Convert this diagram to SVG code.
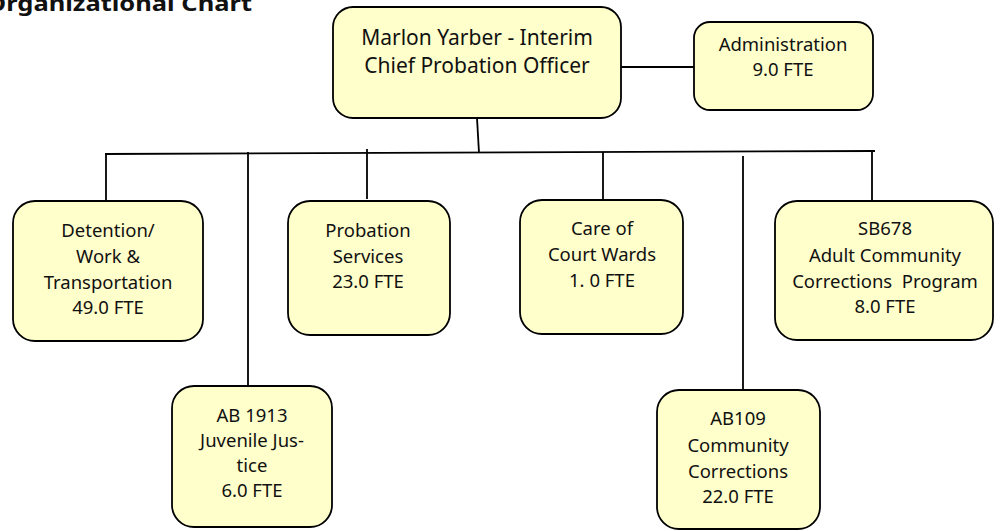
<svg xmlns="http://www.w3.org/2000/svg" width="1001" height="531" viewBox="0 0 1001 531">
<style>
.box{fill:#FFFFCC;stroke:#000;stroke-width:1.8}
.t{font-family:"Noto Sans","Open Sans","Liberation Sans",sans-serif;font-size:18.5px;fill:#111;text-anchor:middle}
.big{font-size:21px}
.ln{stroke:#000;stroke-width:1.8;fill:none}
.title{font-family:"Noto Sans","Open Sans","Liberation Sans",sans-serif;font-size:21px;font-weight:bold;fill:#111}
</style>
<rect width="1001" height="531" fill="#fff"/>
<text class="title" x="-14" y="11" textLength="266" lengthAdjust="spacingAndGlyphs">Organizational Chart</text>
<g id="connectors">
<line class="ln" x1="621" y1="67" x2="694" y2="67"/>
<line class="ln" x1="477" y1="118" x2="479" y2="153"/>
<line class="ln" x1="105" y1="154" x2="875" y2="151"/>
<line class="ln" x1="106" y1="153" x2="106" y2="201"/>
<line class="ln" x1="248" y1="152" x2="248" y2="387"/>
<line class="ln" x1="367" y1="149" x2="367" y2="199"/>
<line class="ln" x1="603" y1="152" x2="603" y2="201"/>
<line class="ln" x1="743" y1="156" x2="743" y2="390"/>
<line class="ln" x1="872" y1="151" x2="872" y2="201"/>
</g>
<g id="chief">
<rect class="box" x="333" y="7" width="288" height="111" rx="20"/>
<text class="t big" x="477" y="45">Marlon Yarber - Interim</text>
<text class="t big" x="477" y="73">Chief Probation Officer</text>
</g>
<g id="administration">
<rect class="box" x="694" y="22" width="179" height="88" rx="16"/>
<text class="t" x="783" y="51">Administration</text>
<text class="t" x="783" y="76">9.0 FTE</text>
</g>
<g id="detention">
<rect class="box" x="13" y="201" width="190" height="140" rx="22"/>
<text class="t" x="108" y="237">Detention/</text>
<text class="t" x="108" y="263">Work &amp;</text>
<text class="t" x="108" y="289">Transportation</text>
<text class="t" x="108" y="314">49.0 FTE</text>
</g>
<g id="probation">
<rect class="box" x="288" y="201" width="162" height="134" rx="22"/>
<text class="t" x="368" y="237">Probation</text>
<text class="t" x="368" y="263">Services</text>
<text class="t" x="368" y="288">23.0 FTE</text>
</g>
<g id="care">
<rect class="box" x="520" y="200" width="163" height="134" rx="22"/>
<text class="t" x="602" y="235">Care of</text>
<text class="t" x="602" y="261">Court Wards</text>
<text class="t" x="602" y="287">1. 0 FTE</text>
</g>
<g id="sb678">
<rect class="box" x="775" y="201" width="218" height="139" rx="22"/>
<text class="t" x="885" y="235">SB678</text>
<text class="t" x="885" y="262">Adult Community</text>
<text class="t" x="885" y="288" xml:space="preserve">Corrections  Program</text>
<text class="t" x="885" y="313">8.0 FTE</text>
</g>
<g id="ab1913">
<rect class="box" x="172" y="386" width="160" height="141" rx="22"/>
<text class="t" x="252" y="422">AB 1913</text>
<text class="t" x="252" y="447">Juvenile Jus-</text>
<text class="t" x="252" y="472">tice</text>
<text class="t" x="252" y="497">6.0 FTE</text>
</g>
<g id="ab109">
<rect class="box" x="657" y="390" width="163" height="139" rx="22"/>
<text class="t" x="738" y="425">AB109</text>
<text class="t" x="738" y="452">Community</text>
<text class="t" x="738" y="478">Corrections</text>
<text class="t" x="738" y="503">22.0 FTE</text>
</g>
</svg>
